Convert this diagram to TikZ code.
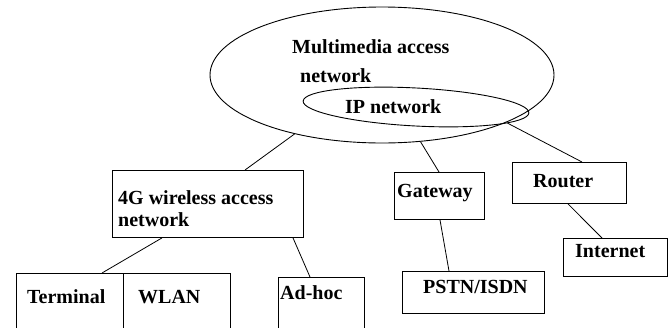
\documentclass[tikz,border=0pt]{standalone}
\usepackage{fontspec}
\setmainfont{Liberation Serif}
\usetikzlibrary{shapes.geometric}
\begin{document}
\begin{tikzpicture}[x=1pt,y=-1pt,
  box/.style={draw, line width=0.9pt, inner sep=0pt, anchor=north west},
  lbl/.style={anchor=base west, inner sep=0pt, font=\fontsize{20}{22}\selectfont\bfseries},
  oval/.style={draw, ellipse, line width=0.9pt, inner sep=0pt},
  link/.style={line width=0.8pt}]
\clip (0,0) rectangle (672,327);
\fill[white] (0,0) rectangle (672,327);
% ellipses
\node[oval, minimum width=344pt, minimum height=136pt] (mm) at (382,75) {};
\node[oval, minimum width=226pt, minimum height=38pt, rotate=-3] (ip) at (416,107) {};
% boxes
\node[box, minimum width=191pt, minimum height=67pt] (g4) at (112,170) {};
\node[box, minimum width=107pt, minimum height=60pt] (term) at (16,273) {};
\node[box, minimum width=107pt, minimum height=60pt] (wlan) at (123,273) {};
\node[box, minimum width=86pt, minimum height=60pt] (adhoc) at (278,277) {};
\node[box, minimum width=90pt, minimum height=47pt] (gw) at (394,172) {};
\node[box, minimum width=114pt, minimum height=41pt] (rt) at (512,162) {};
\node[box, minimum width=104pt, minimum height=38pt] (inet) at (563,238) {};
\node[box, minimum width=142pt, minimum height=42pt] (pstn) at (402,271) {};
% labels
\node[lbl] (t1) at (292,53) {Multimedia access};
\node[lbl] (t2) at (300,82) {network};
\node[lbl] (t3) at (345,113) {IP network};
\node[lbl] (t4) at (118,204) {4G wireless access};
\node[lbl] (t5) at (118,226) {network};
\node[lbl] (t6) at (27,303) {Terminal};
\node[lbl] (t7) at (138,303) {WLAN};
\node[lbl] (t8) at (280,299) {Ad-hoc};
\node[lbl] (t9) at (397,197) {Gateway};
\node[lbl] (t10) at (533,187) {Router};
\node[lbl] (t11) at (575,257) {Internet};
\node[lbl] (t12) at (423,293) {PSTN/ISDN};
% connectors
\draw[link] (mm.214) -- ([xshift=133pt]g4.north west);
\draw[link] (mm.300) -- ([xshift=45pt]gw.north west);
\draw[link] (ip.353) -- ([xshift=70pt]rt.north west);
\draw[link] ([xshift=50pt]g4.south west) -- ([xshift=86pt]term.north west);
\draw[link] ([xshift=181pt]g4.south west) -- ([xshift=32pt]adhoc.north west);
\draw[link] ([xshift=46pt]gw.south west) -- ([xshift=47pt]pstn.north west);
\draw[link] ([xshift=56pt]rt.south west) -- ([xshift=39pt]inet.north west);
\end{tikzpicture}
\end{document}
